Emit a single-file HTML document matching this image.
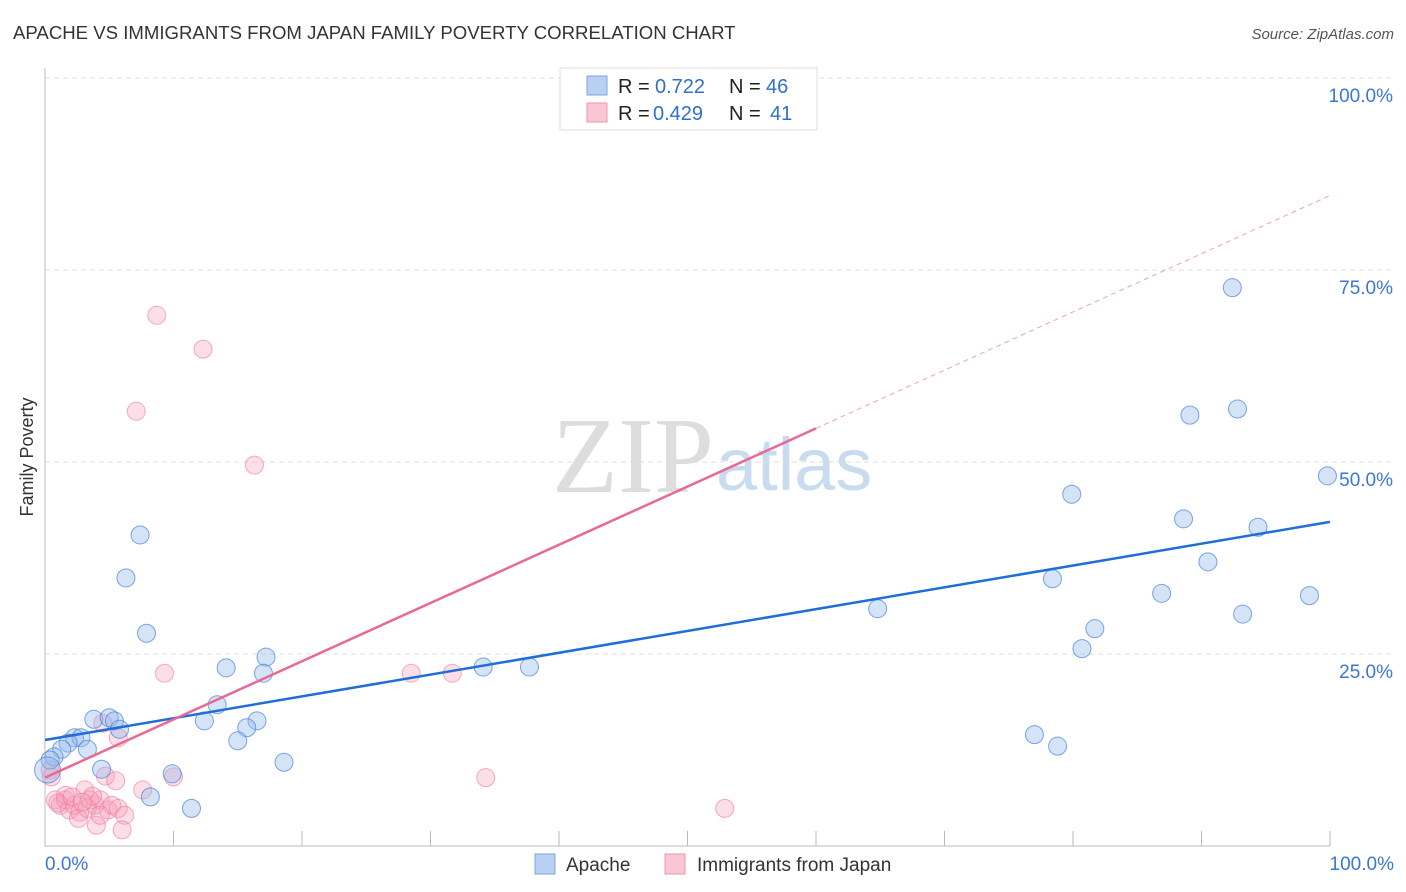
<!DOCTYPE html>
<html><head><meta charset="utf-8"><style>
body{margin:0;background:#fff;font-family:"Liberation Sans",sans-serif;}
svg{display:block}
</style></head><body>
<svg width="1406" height="892" id="c">
<text x="13" y="39" font-size="18.6" fill="#333">APACHE VS IMMIGRANTS FROM JAPAN FAMILY POVERTY CORRELATION CHART</text>
<text x="1394" y="39" font-size="15" font-style="italic" fill="#555" text-anchor="end">Source: ZipAtlas.com</text>
<text x="33" y="457" font-size="18" fill="#333" text-anchor="middle" transform="rotate(-90 33 457)">Family Poverty</text>
<text x="714" y="492" font-size="108" font-family="Liberation Serif,serif" fill="#ddd" text-anchor="end">ZIP</text>
<text x="716" y="490" font-size="74" fill="#c9dbef">atlas</text>
<g id="grid"></g><g id="pts"></g><g id="lines"></g>
<g>
<rect x="560" y="68" width="257" height="62" fill="#fff" stroke="#ddd"/>
<rect x="587" y="76" width="20" height="19" fill="#b9d0f2" stroke="#7aa4e0"/>
<rect x="587" y="103" width="20" height="19" fill="#f9c6d4" stroke="#f096b0"/>
<g font-size="20" fill="#222">
<text x="618" y="93">R =</text><text x="655" y="93" fill="#2f6fd0">0.722</text>
<text x="729" y="93">N =</text><text x="766" y="93" fill="#2f6fd0">46</text>
<text x="618" y="120">R =</text><text x="653" y="120" fill="#2f6fd0">0.429</text>
<text x="729" y="120">N =</text><text x="770" y="120" fill="#2f6fd0">41</text>
</g>
</g>
<g>
<rect x="535" y="854" width="20" height="20" fill="#b9d0f2" stroke="#7aa4e0"/>
<text x="566" y="871" font-size="19" fill="#333">Apache</text>
<rect x="665" y="854" width="20" height="20" fill="#f9c6d4" stroke="#f096b0"/>
<text x="697" y="871" font-size="19" fill="#333">Immigrants from Japan</text>
</g>
</svg>
<script>
const apacheX=[92.4,89.1,92.8,99.8,79.9,88.6,94.4,90.5,78.4,86.9,98.4,93.2,64.8,81.7,80.7,77.0,78.8,7.4,6.3,7.9,17.2,14.1,17.0,34.1,37.7,13.4,12.4,16.5,15.7,15.0,18.6,3.8,5.0,5.4,5.8,2.3,2.8,1.8,1.3,3.3,0.7,0.4,4.4,9.9,8.2,11.4,0.2];
const apacheY=[72.7,56.1,56.9,48.2,45.8,42.6,41.5,37.0,34.8,32.9,32.6,30.2,30.9,28.3,25.7,14.5,13.0,40.5,34.9,27.7,24.6,23.2,22.5,23.3,23.3,18.4,16.3,16.3,15.4,13.7,10.9,16.5,16.7,16.3,15.2,14.1,14.1,13.4,12.6,12.6,11.6,11.2,10.0,9.4,6.4,4.9,9.9];
const japanX=[8.7,12.3,7.1,16.3,9.3,28.5,31.7,4.5,5.7,4.7,5.5,34.3,10.0,7.6,52.9,0.4,0.5,0.8,1.2,1.6,1.9,2.3,2.7,3.1,3.5,3.9,4.3,4.9,5.2,5.7,6.2,4.0,6.0,2.6,1.6,1.0,2.1,3.3,4.3,3.7,2.9];
const japanY=[69.1,64.7,56.6,49.6,22.5,22.5,22.5,16.0,14.1,9.1,8.5,8.9,9.0,7.3,4.9,9.9,9.0,6.0,5.3,6.0,4.7,5.3,4.4,7.3,6.0,5.3,6.0,4.7,5.3,4.9,4.0,2.7,2.1,3.6,6.6,5.6,6.4,4.9,4.0,6.5,5.7];
const apacheFit=[13.8,42.2];
const japanFit=[8.9,84.7];
const yTicks=[25,50,75,100];
const NS='http://www.w3.org/2000/svg';
const sx=v=>45+v*12.85, sy=v=>846-v*7.68;
function mk(t,a,p){const e=document.createElementNS(NS,t);for(const k in a)e.setAttribute(k,a[k]);p.appendChild(e);return e;}
const grid=document.getElementById('grid');
yTicks.forEach(t=>{
  const l=mk('line',{x1:45,x2:1394,y1:sy(t),y2:sy(t),stroke:'#ddd','stroke-dasharray':'5,4'},grid);
  
  
  const tx=mk('text',{x:1393,y:sy(t)+24,'font-size':19,fill:'#3a78d4','text-anchor':'end'},grid);
  tx.textContent=t.toFixed(1)+'%';
  
  
});
const ax=mk('path',{d:'M45,68V846H1330',stroke:'#bbb',fill:'none'},grid);


for(let i=0;i<=10;i++){const t=mk('line',{x1:sx(i*10),x2:sx(i*10),y1:831,y2:846,stroke:'#bbb'},grid);

}
[[0,'0.0%','start',45],[100,'100.0%','end',1394]].forEach(([v,s,a,x])=>{const t=mk('text',{x:x,y:870,'font-size':19,fill:'#3a78d4','text-anchor':a},grid);t.textContent=s;

});
const pts=document.getElementById('pts');
japanX.forEach((x,i)=>{const c=mk('circle',{cx:sx(x),cy:sy(japanY[i]),r:9,fill:'rgba(246,160,185,0.35)',stroke:'rgba(236,120,155,0.6)'},pts);

});
apacheX.forEach((x,i)=>{const c=mk('circle',{cx:sx(x),cy:sy(apacheY[i]),r:i==apacheX.length-1?13:9,fill:'rgba(150,185,235,0.4)',stroke:'rgba(70,130,215,0.7)'},pts);

});
const lines=document.getElementById('lines');
const bl=mk('line',{x1:sx(0),y1:sy(apacheFit[0]),x2:sx(100),y2:sy(apacheFit[1]),stroke:'#1f6ed8','stroke-width':2.5},lines);


const jy=x=>japanFit[0]+(japanFit[1]-japanFit[0])*x/100;
const pl=mk('line',{x1:sx(0),y1:sy(jy(0)),x2:sx(60),y2:sy(jy(60)),stroke:'#e86a93','stroke-width':2.5},lines);


const pd=mk('line',{x1:sx(60),y1:sy(jy(60)),x2:sx(100),y2:sy(jy(100)),stroke:'#f0a0b8','stroke-width':1,'stroke-dasharray':'5,4'},lines);


</script>
</body></html>
